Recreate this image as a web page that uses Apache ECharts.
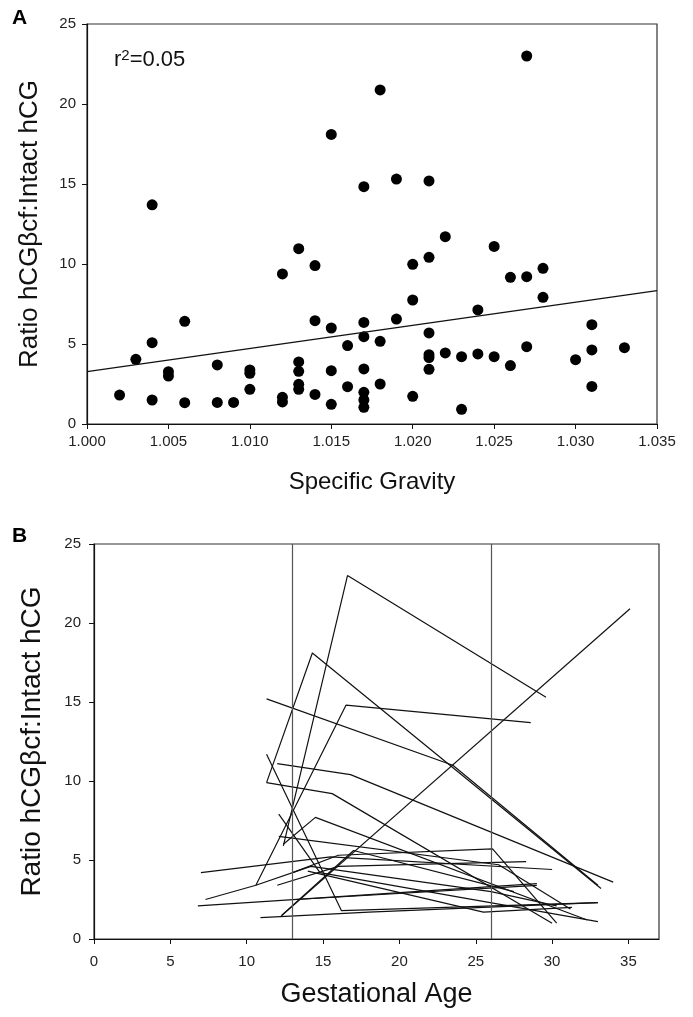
<!DOCTYPE html>
<html>
<head>
<meta charset="utf-8">
<title>hCG ratio</title>
<script src="https://cdn.jsdelivr.net/npm/echarts@6/dist/echarts.min.js"></script>
<style>
html, body { margin: 0; padding: 0; background: #fff; }
#chart { width: 693px; height: 1017px; }
</style>
</head>
<body>
<div id="chart"></div>
<script>
// panel A - specific gravity vs ratio
var sgX = [1.002, 1.003, 1.004, 1.004, 1.004, 1.005, 1.005, 1.006, 1.006, 1.008, 1.008, 1.009,
  1.010, 1.010, 1.010, 1.012, 1.012, 1.012, 1.013, 1.013, 1.013, 1.013, 1.013,
  1.014, 1.014, 1.014, 1.015, 1.015, 1.015, 1.015, 1.016, 1.016,
  1.017, 1.017, 1.017, 1.017, 1.017, 1.017, 1.017, 1.018, 1.018, 1.018, 1.019, 1.019,
  1.020, 1.020, 1.020, 1.021, 1.021, 1.021, 1.021, 1.021, 1.021, 1.022, 1.022,
  1.023, 1.023, 1.024, 1.024, 1.025, 1.025, 1.026, 1.026, 1.027, 1.027, 1.027,
  1.028, 1.028, 1.030, 1.031, 1.031, 1.031, 1.033];
var ratioA = [1.81, 4.04, 13.7, 5.08, 1.5, 3.27, 3.0, 6.42, 1.33, 3.69, 1.35, 1.35,
  3.38, 3.17, 2.17, 9.38, 1.67, 1.38, 10.96, 3.88, 3.29, 2.48, 2.17,
  9.9, 6.46, 1.85, 18.1, 6.0, 3.33, 1.23, 4.9, 2.33,
  14.83, 6.35, 5.46, 3.44, 1.98, 1.5, 1.04, 20.88, 5.17, 2.5, 15.31, 6.56,
  9.98, 7.75, 1.73, 15.19, 10.42, 5.69, 4.33, 4.15, 3.42, 11.71, 4.44,
  4.21, 0.92, 7.13, 4.38, 11.1, 4.21, 9.17, 3.65, 23.0, 9.21, 4.83,
  9.73, 7.92, 4.02, 6.21, 4.63, 2.35, 4.77];
var fitSg = [1.000, 1.035];
var fitRatio = [3.27, 8.33];
var sgTicks = [1.000, 1.005, 1.010, 1.015, 1.020, 1.025, 1.030, 1.035];
var ratioTicks = [0, 5, 10, 15, 20, 25];

// panel B - gestational age, one polyline per subject
var gaLines = [
  [[12.4, 5.9], [16.6, 23.0], [29.6, 15.3]],
  [[11.3, 9.9], [14.3, 18.1], [33.2, 3.2]],
  [[11.3, 15.2], [23.5, 11.0], [33.0, 3.4]],
  [[12.2, 1.4], [35.1, 20.9]],
  [[7.3, 2.5], [10.6, 3.4], [16.5, 14.8], [28.6, 13.7]],
  [[12.0, 11.1], [16.8, 10.4], [34.0, 3.6]],
  [[11.3, 9.9], [15.6, 9.2], [30.0, 1.0]],
  [[11.3, 11.7], [16.2, 1.8], [33.0, 2.3]],
  [[12.4, 6.0], [14.5, 7.7], [32.3, 1.2]],
  [[12.1, 6.5], [26.5, 4.7], [31.2, 1.9]],
  [[12.1, 7.9], [14.8, 4.2], [33.0, 1.1]],
  [[7.0, 4.2], [15.5, 5.2], [30.0, 4.4]],
  [[6.8, 2.1], [29.0, 3.5]],
  [[10.9, 1.35], [18.0, 1.7], [33.0, 2.3]],
  [[12.0, 3.4], [16.0, 4.6], [28.3, 4.9]],
  [[13.0, 4.2], [16.0, 5.3], [26.1, 5.7], [30.3, 1.0]],
  [[12.3, 1.5], [17.0, 5.6], [27.5, 3.0]],
  [[10.6, 3.4], [14.2, 4.6], [26.0, 3.0], [30.3, 2.1]],
  [[14.0, 4.3], [25.5, 1.7], [31.3, 2.0]],
  [[13.2, 2.5], [29.0, 3.4]]
];
var trimesterLines = [13, 26];
var gaTicks = [0, 5, 10, 15, 20, 25, 30, 35];

var font = 'Liberation Sans';
var scatterPts = sgX.map(function (x, i) { return [x, ratioA[i]]; });
var fitPts = fitSg.map(function (x, i) { return [x, fitRatio[i]]; });

function valueAxis(idx, ticks, max, fmt, name, nameSize, gap, margin, showMax) {
  return {
    type: 'value',
    gridIndex: idx,
    min: ticks[0],
    max: max,
    interval: ticks[1] - ticks[0],
    name: name,
    nameLocation: 'middle',
    nameGap: gap,
    nameTextStyle: { fontFamily: font, fontSize: nameSize, color: '#111' },
    axisLine: { show: true, onZero: false, lineStyle: { color: '#111', width: 1.2 } },
    axisTick: { show: true, inside: false, length: 5, lineStyle: { color: '#111' } },
    axisLabel: {
      fontFamily: font, fontSize: 15, color: '#222', margin: margin,
      formatter: fmt,
      showMaxLabel: showMax
    },
    splitLine: { show: false }
  };
}

var series = [
  {
    type: 'scatter', xAxisIndex: 0, yAxisIndex: 0,
    data: scatterPts, symbolSize: 11,
    itemStyle: { color: '#000', opacity: 1 }, silent: true
  },
  {
    type: 'line', xAxisIndex: 0, yAxisIndex: 0,
    data: fitPts, showSymbol: false, symbol: 'none',
    lineStyle: { color: '#111', width: 1.3 }, silent: true
  }
];
gaLines.forEach(function (pts, i) {
  var s = {
    type: 'line', xAxisIndex: 1, yAxisIndex: 1,
    data: pts, symbol: 'none', showSymbol: false,
    lineStyle: { color: '#111', width: 1.2 }, silent: true
  };
  if (i === 0) {
    s.markLine = {
      silent: true, symbol: 'none', label: { show: false },
      lineStyle: { color: '#555', width: 1.2, type: 'solid' },
      data: trimesterLines.map(function (v) { return { xAxis: v }; })
    };
  }
  series.push(s);
});

var chart = echarts.init(document.getElementById('chart'));
chart.setOption({
  backgroundColor: '#fff',
  animation: false,
  grid: [
    { left: 87, top: 24, width: 570, height: 400, show: true, borderColor: '#333', borderWidth: 1.2, outerBoundsMode: 'none' },
    { left: 94, top: 544, width: 565, height: 395, show: true, borderColor: '#333', borderWidth: 1.2, outerBoundsMode: 'none' }
  ],
  xAxis: [
    valueAxis(0, sgTicks, 1.035, function (v) { return v.toFixed(3); }, 'Specific Gravity', 24, 46, 10, true),
    valueAxis(1, gaTicks, 37, function (v) { return v; }, 'Gestational Age', 27, 42, 15, false)
  ],
  yAxis: [
    valueAxis(0, ratioTicks, 25, function (v) { return v; }, 'Ratio hCG\u03b2cf:Intact hCG', 26, 44, 11, true),
    valueAxis(1, ratioTicks, 25, function (v) { return v; }, 'Ratio hCG\u03b2cf:Intact hCG', 28, 48, 13, true)
  ],
  graphic: [
    { type: 'text', left: 12, top: 8, style: { text: 'A', fontFamily: font, fontSize: 21, fontWeight: 'bold', fill: '#000' } },
    { type: 'text', left: 12, top: 526, style: { text: 'B', fontFamily: font, fontSize: 21, fontWeight: 'bold', fill: '#000' } },
    {
      type: 'text', left: 114, top: 48,
      style: {
        text: 'r{sup|2}=0.05',
        fontFamily: font, fontSize: 22, fill: '#111',
        rich: { sup: { fontSize: 15, verticalAlign: 'top', padding: [0, 0, 9, 0], fontFamily: font, fill: '#111' } }
      }
    }
  ],
  series: series
});
window.addEventListener('resize', function () { chart.resize(); });
</script>
</body>
</html>
